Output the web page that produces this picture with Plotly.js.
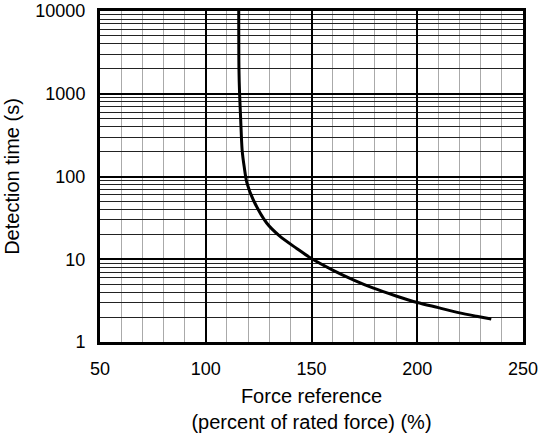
<!DOCTYPE html>
<html>
<head>
<meta charset="utf-8">
<script src="https://cdn.plot.ly/plotly-3.0.1.min.js"></script>
<style>html,body{margin:0;padding:0;background:#fff;}#chart{width:544px;height:437px;}</style>
</head>
<body>
<div id="chart"></div>
<script>
const forcePct = [115.6, 115.7, 116.0, 116.5, 117.2, 118.2, 119.5, 122.5, 128.8, 135, 143, 150, 160, 170, 179, 190, 200, 210, 220, 228, 235];
const detectTime = [10000, 2000, 1000, 500, 209, 130, 83, 52, 27.4, 19, 13.5, 10.2, 7.4, 5.6, 4.5, 3.6, 3.0, 2.6, 2.25, 2.05, 1.9];
const xTickVals = [50, 100, 150, 200, 250];
const yTickVals = [1, 10, 100, 1000, 10000];
const yTickText = ['1', '10', '100', '1000', '10000'];

const trace = {
  x: forcePct, y: detectTime, type: 'scatter', mode: 'lines',
  line: {color: '#000', width: 3, shape: 'spline', smoothing: 0.8},
  hoverinfo: 'skip'
};
const tickFont = {family: 'Liberation Sans, Arial, sans-serif', size: 18, color: '#000'};
const titleFont = {family: 'Liberation Sans, Arial, sans-serif', size: 20, color: '#000'};
const layout = {
  width: 544, height: 437,
  margin: {l: 100, r: 21, t: 11, b: 95},
  paper_bgcolor: '#fff', plot_bgcolor: '#fff',
  showlegend: false,
  font: tickFont,
  xaxis: {
    range: [50, 250], tickvals: xTickVals, ticks: '', ticklen: 0, ticklabelstandoff: 8,
    showgrid: true, gridcolor: '#000', gridwidth: 2,
    minor: {dtick: 10, showgrid: true, gridcolor: '#aaaaaa', gridwidth: 1},
    showline: true, linecolor: '#000', linewidth: 3, mirror: true,
    zeroline: false, tickfont: tickFont,
    title: {text: 'Force reference<br>(percent of rated force) (%)', font: titleFont, standoff: 12}
  },
  yaxis: {
    type: 'log', range: [0, 4], tickvals: yTickVals, ticktext: yTickText, ticks: '', ticklabelstandoff: 8,
    showgrid: true, gridcolor: '#000', gridwidth: 2,
    minor: {dtick: 'D1', showgrid: true, gridcolor: '#222', gridwidth: 1},
    showline: true, linecolor: '#000', linewidth: 3, mirror: true,
    zeroline: false, tickfont: tickFont,
    title: {text: 'Detection time (s)', font: titleFont, standoff: 11}
  }
};
Plotly.newPlot('chart', [trace], layout, {displayModeBar: false, staticPlot: true});
</script>
</body>
</html>
